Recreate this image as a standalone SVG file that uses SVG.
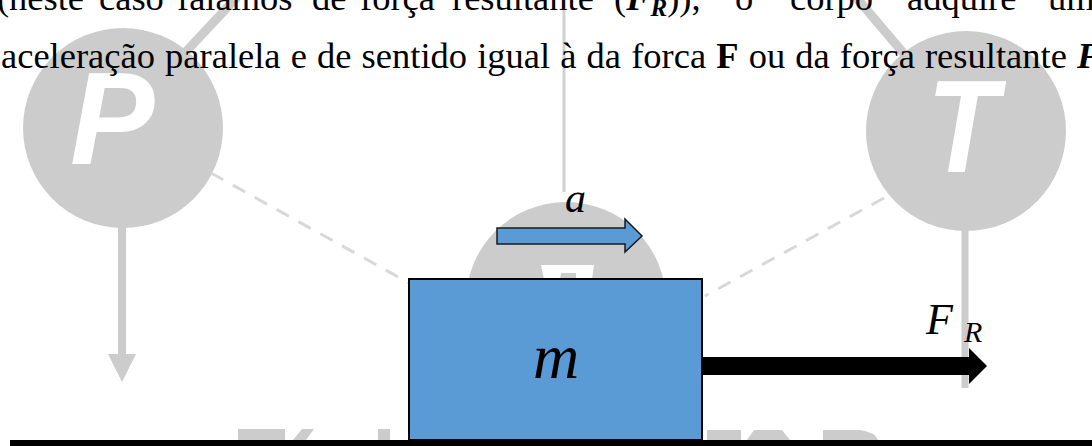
<svg xmlns="http://www.w3.org/2000/svg" width="1092" height="446" viewBox="0 0 1092 446">
<style>
.wm{fill:#cccccc}
.wml{stroke:#cccccc;fill:none}
.dash{stroke:#d8d8d8;stroke-width:3;stroke-dasharray:14 11;fill:none}
.body{font-family:"Liberation Serif","Times New Roman",serif;font-size:36.5px;fill:#000}
.bi{font-weight:bold;font-style:italic}
.wmt{font-family:"Liberation Sans",Arial,sans-serif;font-weight:bold;font-style:italic;fill:#ffffff;font-size:132px}
.math{font-family:"Liberation Serif","Times New Roman",serif;font-style:italic;fill:#000}
</style>
<rect width="1092" height="446" fill="#ffffff"/>
<g id="watermark">
  <line x1="180" y1="58" x2="238" y2="-4" class="wml" stroke-width="9"/>
  <line x1="905" y1="55" x2="855" y2="-4" class="wml" stroke-width="9"/>
  <circle cx="123" cy="128" r="100" class="wm"/>
  <text class="wmt" transform="translate(70,164) scale(0.96,1)">P</text>
  <line x1="122" y1="226" x2="122" y2="356" class="wml" stroke-width="8"/>
  <polygon points="108,354 136,354 122,382" class="wm"/>
  <circle cx="966" cy="131" r="100" class="wm"/>
  <text class="wmt" transform="translate(927,172) scale(0.88,1)">T</text>
  <line x1="965" y1="228" x2="965" y2="388" class="wml" stroke-width="7"/>
  <line x1="564" y1="0" x2="564" y2="192" stroke="#d0d0d0" stroke-width="3"/>
  <circle cx="566" cy="302" r="100" class="wm"/>
  <polygon points="541,265 594,265 592,279 576,279 576,273 561,273 560,279 544,279" fill="#ffffff"/>
  <rect x="238" y="429" width="47" height="11" class="wm"/>
  <polygon points="302,429 314,429 306,440 293,440" class="wm"/>
  <rect x="378" y="429" width="12" height="11" class="wm"/>
  <rect x="707" y="430" width="34" height="10" class="wm"/>
  <polygon points="754,430 782,430 790,440 747,440" class="wm"/>
  <path d="M823,430 H860 Q875,432 878,440 H823 Z" class="wm"/>
</g>
<g id="connectors">
  <line x1="211" y1="173" x2="409" y2="283" class="dash"/>
  <line x1="884" y1="198" x2="705" y2="296" class="dash"/>
</g>
<g id="paragraph" class="body">
  <text y="10"><tspan x="-3">(</tspan><tspan x="9">neste</tspan><tspan x="99">caso</tspan><tspan x="177">falamos</tspan><tspan x="312">de</tspan><tspan x="360">força</tspan><tspan x="452">resultante</tspan><tspan x="614">(</tspan><tspan class="bi">F</tspan><tspan class="bi" font-size="25" dy="6">R</tspan><tspan dy="-6">)),</tspan><tspan x="735">o</tspan><tspan x="790">corpo</tspan><tspan x="907">adquire</tspan><tspan x="1048">uma</tspan></text>
  <text x="1" y="68" word-spacing="1">aceleração paralela e de sentido igual à da forca <tspan font-weight="bold">F</tspan> ou da força resultante <tspan class="bi">F</tspan></text>
</g>
<g id="ground">
  <rect x="10" y="440" width="1082" height="6" fill="#000"/>
</g>
<g id="box-m">
  <rect x="409" y="279" width="293" height="161" fill="#5B9BD5" stroke="#000" stroke-width="2"/>
  <text x="556" y="378" class="math" font-size="64" text-anchor="middle">m</text>
</g>
<g id="arrow-a">
  <polygon points="497,228 625,228 625,219 642,236 625,252 625,244 497,244" fill="#5B9BD5" stroke="#1a1a1a" stroke-width="1.5"/>
  <text x="565" y="212" class="math" font-size="42">a</text>
</g>
<g id="arrow-FR">
  <polygon points="703,357 969,357 969,348 987,366 969,384 969,375 703,375" fill="#000"/>
  <text x="926" y="334" class="math" font-size="44">F</text>
  <text x="964" y="342" class="math" font-size="30">R</text>
</g>
</svg>
